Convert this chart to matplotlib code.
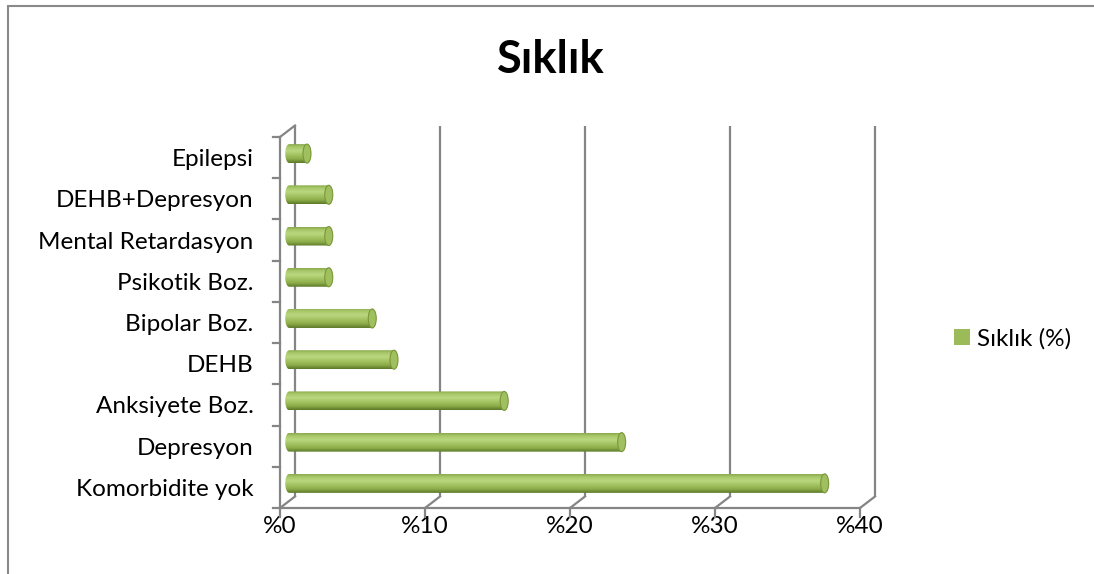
import numpy as np
import matplotlib
matplotlib.use("Agg")
import matplotlib.pyplot as plt
from matplotlib.path import Path
from matplotlib.patches import PathPatch, Ellipse, Rectangle, Patch
from matplotlib.colors import LinearSegmentedColormap

plt.rcParams['font.family'] = ['Lato', 'DejaVu Sans']

# data (bottom to top)
categories = ['Komorbidite yok', 'Depresyon', 'Anksiyete Boz.', 'DEHB', 'Bipolar Boz.',
              'Psikotik Boz.', 'Mental Retardasyon', 'DEHB+Depresyon', 'Epilepsi']
values = [37.2, 23.2, 15.1, 7.5, 6.0, 3.0, 3.0, 3.0, 1.5]
xticks = [0, 10, 20, 30, 40]
xlabels = ['%0', '%10', '%20', '%30', '%40']
title = 'Sıklık'
series_name = 'Sıklık (%)'

W, H = 1094, 574
fig = plt.figure(figsize=(W / 100, H / 100), dpi=100)
fig.patch.set_facecolor('white')

# outer chart border
fig.patches.append(Rectangle((8 / W, -0.05), 1.1, (H - 6) / H + 0.05, transform=fig.transFigure,
                             fill=False, edgecolor='#898989', linewidth=1.5))

# front plane of the 3d box
ax = fig.add_axes([280 / W, (H - 508) / H, 580 / W, 371 / H])
ax.set_xlim(0, 40)
ax.set_ylim(-0.5, len(categories) - 0.5)
for s in ax.spines.values():
    s.set_visible(False)

px_x = 580 / 40          # pixels per x unit
px_y = 371 / len(categories)
DX = 15 / px_x           # depth offset of the back wall
DY = 11.5 / px_y
grid_c = '#858585'
lw = 1.6
top = len(categories) - 0.5

# back wall gridlines and floor diagonals
for v in xticks:
    ax.plot([v + DX, v + DX], [-0.5 + DY, top + DY], color=grid_c, lw=lw, clip_on=False,
            solid_capstyle='butt')
    ax.plot([v, v + DX], [-0.5, -0.5 + DY], color=grid_c, lw=lw, clip_on=False)
    ax.plot([v, v], [-0.5, -0.5 - 9 / px_y], color=grid_c, lw=lw, clip_on=False)

# front axes
ax.plot([0, 40], [-0.5, -0.5], color=grid_c, lw=lw, clip_on=False)
ax.plot([0, 0], [-0.5, top], color=grid_c, lw=lw, clip_on=False)
ax.plot([0, DX], [top, top + DY], color=grid_c, lw=lw, clip_on=False)
for k in range(len(categories) + 1):
    ax.plot([-7 / px_x, 0], [k - 0.5, k - 0.5], color=grid_c, lw=lw, clip_on=False)

# cylinder shading
cyl = LinearSegmentedColormap.from_list('cyl', [
    (0.0, '#8AAA4B'), (0.15, '#A9C96B'), (0.35, '#BAD77F'), (0.55, '#A6C564'),
    (0.8, '#8BAA48'), (1.0, '#5C7828')])
grad = cyl(np.linspace(0, 1, 64))[:, None, :3]

f = 0.35                  # bar depth position
bh = 19 / px_y            # bar thickness
rx = 4 / px_x             # horizontal radius of the end caps
t = np.linspace(np.pi / 2, 3 * np.pi / 2, 30)
for i, v in enumerate(values):
    yc = i + f * DY
    x0 = f * DX + rx
    x1 = v + f * DX
    left = np.column_stack([x0 + rx * np.cos(t), yc + bh / 2 * np.sin(t)])
    right = np.column_stack([x1 - rx * np.cos(t), yc - bh / 2 * np.sin(t)])
    verts = np.vstack([left, right, left[:1]])
    shape = PathPatch(Path(verts), facecolor='none', edgecolor='none', transform=ax.transData)
    ax.add_patch(shape)
    im = ax.imshow(grad, extent=[x0 - rx, x1 + rx, yc - bh / 2, yc + bh / 2],
                   aspect='auto', interpolation='bilinear', origin='upper', zorder=3)
    im.set_clip_path(shape)
    ax.add_patch(Ellipse((x1, yc), 2 * rx, bh, facecolor='#A0BF5E', edgecolor='#7A983B',
                         linewidth=0.8, zorder=4))

ax.set_xlim(0, 40)
ax.set_ylim(-0.5, top)

ax.set_yticks(range(len(categories)), categories, fontsize=17.5)
ax.set_xticks(xticks, xlabels, fontsize=17.5)
ax.tick_params(axis='y', length=0, pad=19)
ax.tick_params(axis='x', length=0, pad=6)

fig.text(551 / W, 1 - 60 / H, title, ha='center', va='center', fontsize=32.5, fontweight='bold')

ax.legend(handles=[Patch(facecolor='#9BBB59', edgecolor='none', label=series_name)],
          loc='center left', bbox_to_anchor=(954 / W, 1 - 339 / H),
          bbox_transform=fig.transFigure, frameon=False, fontsize=17.5,
          handlelength=0.65, handleheight=0.65, handletextpad=0.3, borderpad=0, borderaxespad=0)

fig.savefig('out.png', dpi=100)
